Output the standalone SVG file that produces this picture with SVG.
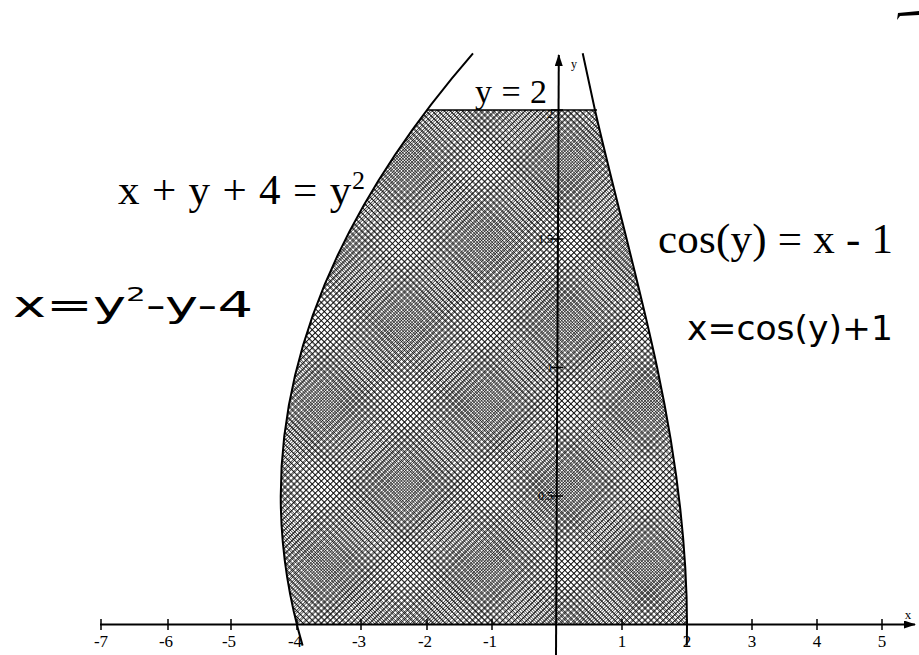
<svg xmlns="http://www.w3.org/2000/svg" width="919" height="655" viewBox="0 0 919 655">
<style>
.ax{stroke:#000;stroke-width:2;fill:none}
.cv{stroke:#000;stroke-width:2;fill:none}
.tk{stroke:#000;stroke-width:1.5}
.num{font-family:"Liberation Serif","Times New Roman",serif;font-size:17px;fill:#000;text-anchor:middle}
.ynum{font-family:"Liberation Serif","Times New Roman",serif;font-size:12px;fill:#000;text-anchor:end}
.eq{font-family:"Liberation Serif","Times New Roman",serif;font-size:43px;fill:#000}
.hw{font-family:"DejaVu Sans","Liberation Sans",sans-serif;fill:#000}
</style>
<defs>
<pattern id="pa" width="4.2" height="10" patternUnits="userSpaceOnUse" patternTransform="rotate(45)"><rect width="0.58" height="10" fill="#000"/></pattern>
<pattern id="pb" width="4.36" height="10" patternUnits="userSpaceOnUse" patternTransform="rotate(45)"><rect width="0.58" height="10" fill="#000"/></pattern>
<pattern id="pc" width="4.2" height="10" patternUnits="userSpaceOnUse" patternTransform="rotate(-45)"><rect width="0.58" height="10" fill="#000"/></pattern>
<pattern id="pd" width="4.36" height="10" patternUnits="userSpaceOnUse" patternTransform="rotate(-45)"><rect width="0.58" height="10" fill="#000"/></pattern>
<path id="reg" d="M297,625 Q232,367.5 427,110 L594.95,110 C614.65,195.83 638.89,281.67 657.12,367.5 C675.35,453.33 687,539.17 687,625 Z"/>
<marker id="ah" markerWidth="12" markerHeight="8" refX="11" refY="4" orient="auto" markerUnits="userSpaceOnUse"><path d="M0,0 L12,4 L0,8 Z" fill="#000"/></marker>
</defs>
<g id="region">
<use href="#reg" fill="url(#pa)"/>
<use href="#reg" fill="url(#pb)"/>
<use href="#reg" fill="url(#pc)"/>
<use href="#reg" fill="url(#pd)"/>
</g>
<g id="axes">
<line class="ax" x1="100" y1="624.5" x2="915" y2="624.5" marker-end="url(#ah)"/>
<line class="ax" x1="556" y1="655" x2="558.8" y2="55" marker-end="url(#ah)"/>
<g class="tk">
<line x1="101" y1="619" x2="101" y2="630"/>
<line x1="168" y1="619" x2="168" y2="630"/>
<line x1="231" y1="619" x2="231" y2="630"/>
<line x1="297" y1="619" x2="297" y2="630"/>
<line x1="361" y1="619" x2="361" y2="630"/>
<line x1="427" y1="619" x2="427" y2="630"/>
<line x1="492" y1="619" x2="492" y2="630"/>
<line x1="622" y1="619" x2="622" y2="630"/>
<line x1="687" y1="619" x2="687" y2="630"/>
<line x1="752" y1="619" x2="752" y2="630"/>
<line x1="817" y1="619" x2="817" y2="630"/>
<line x1="882" y1="619" x2="882" y2="630"/>
<line x1="551" y1="110" x2="563" y2="110"/>
<line x1="551" y1="239" x2="563" y2="239"/>
<line x1="551" y1="367.5" x2="563" y2="367.5"/>
<line x1="551" y1="496" x2="563" y2="496"/>
</g>
<text class="num" x="101" y="647">-7</text>
<text class="num" x="166" y="647">-6</text>
<text class="num" x="229" y="647">-5</text>
<text class="num" x="295" y="647">-4</text>
<text class="num" x="359" y="647">-3</text>
<text class="num" x="425" y="647">-2</text>
<text class="num" x="490" y="647">-1</text>
<text class="num" x="622" y="647">1</text>
<text class="num" x="687" y="647">2</text>
<text class="num" x="752" y="647">3</text>
<text class="num" x="817" y="647">4</text>
<text class="num" x="882" y="647">5</text>
<text x="908" y="619" style="font-family:'Liberation Serif',serif;font-size:13px;text-anchor:middle">x</text>
<text x="574" y="68" style="font-family:'Liberation Serif',serif;font-size:12px;text-anchor:middle">y</text>
<text class="ynum" x="553" y="118">2</text>
<text class="ynum" x="553" y="243">1.5</text>
<text class="ynum" x="553" y="372">1</text>
<text class="ynum" x="553" y="500">0.5</text>
</g>
<g id="curves">
<path class="cv" d="M302.6,645.6 Q215.9,349.5 473,53.3"/>
<path class="cv" d="M686.8,645.6 L687,625 C687,539.17 675.35,453.33 657.12,367.5 C638.89,281.67 614.65,195.83 594.95,110 L582.7,53.3"/>
<line class="cv" x1="427" y1="110" x2="597" y2="110" style="stroke-width:1.6"/>
</g>
<g id="labels">
<text class="eq" x="475" y="103" style="font-size:34px" textLength="72" lengthAdjust="spacing">y = 2</text>
<text class="eq" x="118" y="204" textLength="247" lengthAdjust="spacing">x + y + 4 = y<tspan dy="-15" style="font-size:26px">2</tspan></text>
<text class="eq" x="658" y="253" textLength="235" lengthAdjust="spacing">cos(y) = x - 1</text>
<text class="hw" x="13" y="317" style="font-size:36px" textLength="240" lengthAdjust="spacingAndGlyphs">x=y<tspan dy="-16" style="font-size:20px">2</tspan><tspan dy="16">-y-4</tspan></text>
<text class="hw" x="687" y="340" style="font-size:34px" textLength="206" lengthAdjust="spacingAndGlyphs">x=cos(y)+1</text>
</g>
<path d="M897,20 L898,13 L919,11 L919,15 L900,16 Z" fill="#000"/>
</svg>
